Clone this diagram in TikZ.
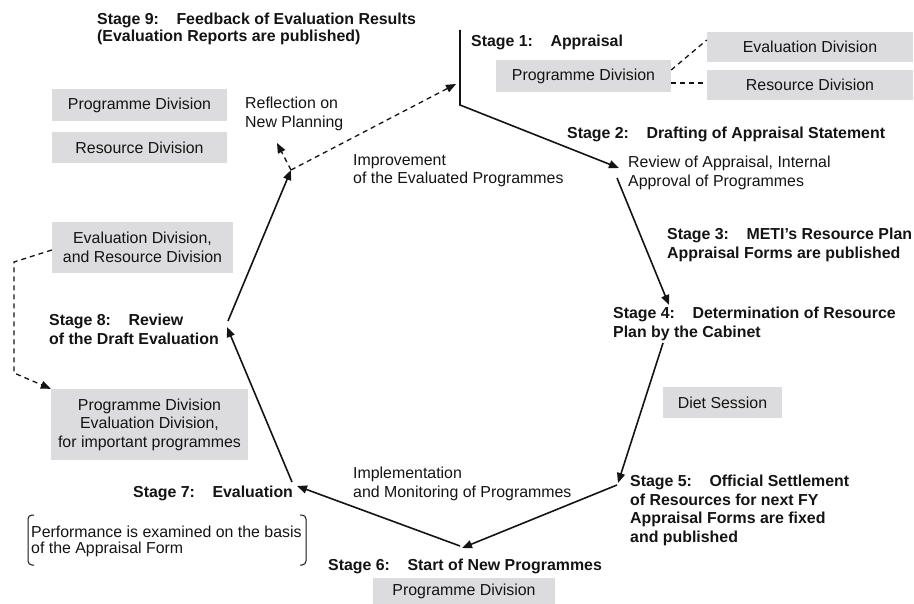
\documentclass[tikz,border=0pt]{standalone}
\usepackage{fontspec}
\setmainfont{Liberation Sans}
\usetikzlibrary{arrows.meta}
\definecolor{boxgrey}{RGB}{220,220,222}
\definecolor{ink}{RGB}{20,20,20}
\tikzset{
  txt/.style={anchor=north west, inner sep=0pt, align=left, text=ink,
    font=\fontsize{15.9}{18.5}\selectfont},
  stg/.style={txt, font=\fontsize{15.9}{18.5}\selectfont\bfseries},
  gbox/.style={fill=boxgrey, inner sep=0pt, align=center, text=ink,
    font=\fontsize{15.9}{18.5}\selectfont},
  flow/.style={draw=ink, line width=1.6pt, -{Triangle[length=10pt,width=8pt]}},
  dsh/.style={draw=ink, line width=1.3pt, dash pattern=on 5pt off 4pt},
  dsharr/.style={dsh, -{Triangle[length=10pt,width=8pt]}},
}
\newcommand{\gap}{\hspace{1.1em}}
\begin{document}
\begin{tikzpicture}[x=1pt, y=-1pt]
\useasboundingbox (0,0) rectangle (914,604);

% ---- stage texts ----
\node[stg] (s9) at (97,13) {Stage 9:\gap Feedback of Evaluation Results\\[-2pt](Evaluation Reports are published)};
\node[stg] (s1) at (471,35) {Stage 1:\gap Appraisal};
\node[stg] (s2) at (567,127) {Stage 2:\gap Drafting of Appraisal Statement};
\node[txt] (rev) at (628,156) {Review of Appraisal, Internal\\Approval of Programmes};
\node[stg] (s3) at (667,228) {Stage 3:\gap METI’s Resource Plan\\Appraisal Forms are published};
\node[stg] (s4) at (613,307) {Stage 4:\gap Determination of Resource\\Plan by the Cabinet};
\node[stg] (s5) at (630,475) {Stage 5:\gap Official Settlement\\of Resources for next FY\\Appraisal Forms are fixed\\and published};
\node[stg] (s6) at (328,559) {Stage 6:\gap Start of New Programmes};
\node[stg] (s7) at (133,486) {Stage 7:\gap Evaluation};
\node[stg] (s8) at (49,314) {Stage 8:\gap Review\\of the Draft Evaluation};
\node[txt] (impl) at (353,467) {Implementation\\and Monitoring of Programmes};
\node[txt] (impr) at (353,154) {Improvement\\of the Evaluated Programmes};
\node[txt] (refl) at (245,97) {Reflection on\\New Planning};
\node[txt, font=\fontsize{15.9}{16}\selectfont] (perf) at (31,526) {Performance is examined on the basis\\of the Appraisal Form};

% ---- grey boxes ----
\node[gbox, minimum width=175pt, minimum height=32pt] (s1prog) at (583.5,76) {Programme Division};
\node[gbox, minimum width=206pt, minimum height=30pt] (s1eval) at (810,47) {Evaluation Division};
\node[gbox, minimum width=206pt, minimum height=30pt] (s1res) at (810,85) {Resource Division};
\node[gbox, minimum width=175pt, minimum height=32pt] (tlprog) at (139.5,105) {Programme Division};
\node[gbox, minimum width=175pt, minimum height=31pt] (tlres) at (139.5,147.5) {Resource Division};
\node[gbox, minimum width=181pt, minimum height=51pt] (s8a) at (142.5,247.5) {Evaluation Division,\\and Resource Division};
\node[gbox, minimum width=197pt, minimum height=71pt] (s8b) at (149.5,424.5) {Programme Division\\Evaluation Division,\\for important programmes};
\node[gbox, minimum width=119pt, minimum height=31pt] (diet) at (722.5,402.5) {Diet Session};
\node[gbox, minimum width=182pt, minimum height=26pt] (s6prog) at (464,591) {Programme Division};

% ---- cycle connectors ----
\coordinate (v1top) at (460,30);
\coordinate (v1bot) at (460,105);
\coordinate (t2) at (619,168);
\coordinate (a3s) at (617,178);
\coordinate (t4) at (669,305);
\coordinate (a5s) at (663,343);
\coordinate (t5) at (618,483);
\coordinate (a6s) at (617,485);
\coordinate (t6) at (462,548);
\coordinate (a7s) at (460,546);
\coordinate (t7) at (297,486);
\coordinate (a8s) at (292,482);
\coordinate (t8) at (227,327);
\coordinate (a9s) at (228,321);
\coordinate (jn) at (291,170);
\coordinate (t1) at (456,84);
\coordinate (trefl) at (277,143);

\draw[flow] (v1top) -- (v1bot) -- (t2);
\draw[flow] (a3s) -- (t4);
\draw[flow] (a5s) -- (t5);
\draw[flow] (a6s) -- (t6);
\draw[flow] (a7s) -- (t7);
\draw[flow] (a8s) -- (t8);
\draw[flow] (a9s) -- (jn);
\draw[dsharr] (jn) -- (t1);
\draw[dsharr] (jn) -- (trefl);

% ---- dashed relations ----
\draw[dsh] (s1prog.east |- 0,70) -- (s1eval.west |- 0,40);
\draw[dsh] (s1prog.east |- 0,83) -- (s1res.west |- 0,83);
\coordinate (l1) at (14,262);
\coordinate (l2) at (14,373);
\draw[dsharr] (s8a.west |- 0,250) -- (l1) -- (l2) -- (s8b.north west);

% ---- brackets ----
\draw[ink, line width=1pt, rounded corners=4pt] (34,515) -- (28,515) -- (28,565) -- (34,565);
\draw[ink, line width=1pt, rounded corners=4pt] (300,515) -- (306,515) -- (306,565) -- (300,565);
\end{tikzpicture}
\end{document}
